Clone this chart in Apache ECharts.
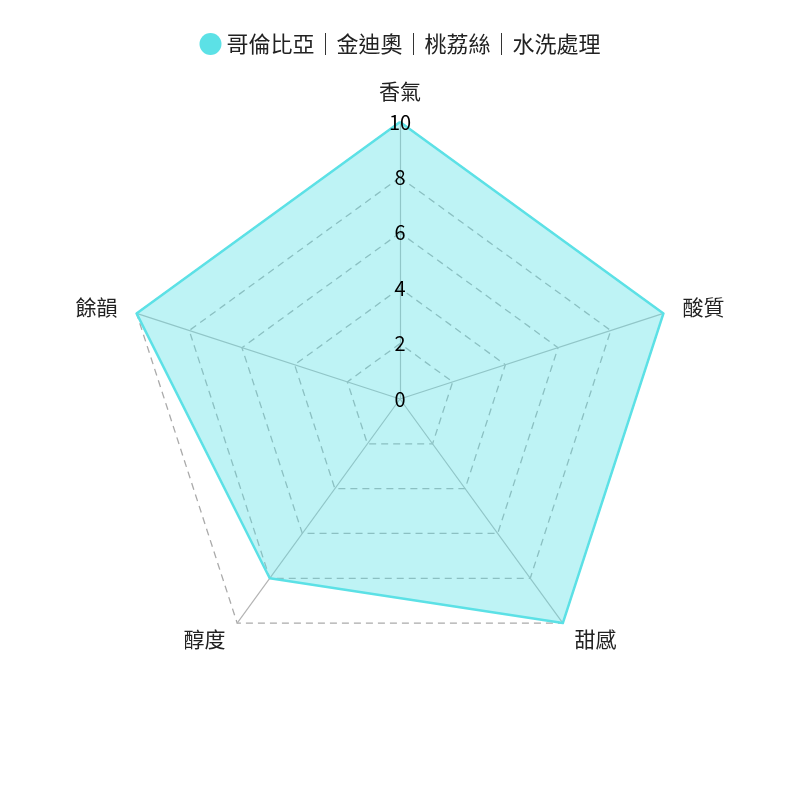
<!DOCTYPE html>
<html><head><meta charset="utf-8">
<script src="https://cdn.jsdelivr.net/npm/echarts@6/dist/echarts.min.js"></script>
<style>html,body{margin:0;padding:0;background:#fff}#c{width:800px;height:800px}</style>
</head><body><div id="c"></div>
<script>
const seriesName = '哥倫比亞｜金迪奧｜桃荔絲｜水洗處理';
// listed clockwise from the top
const indicatorNames = ['香氣', '酸質', '甜感', '醇度', '餘韻'];
const indicatorMax = [10, 10, 10, 10, 10];
const values = [10, 10, 10, 8, 10];

// ECharts lays indicators out counter-clockwise; reorder to draw clockwise
const order = [0, 4, 3, 2, 1];

const chart = echarts.init(document.getElementById('c'));
const font = '"Noto Sans CJK TC", "Noto Sans", sans-serif';
const baseRadar = {
  center: ['50%', 399],
  radius: 277,
  shape: 'polygon',
  splitNumber: 5,
  startAngle: 90
};
chart.setOption({
  backgroundColor: '#fff',
  textStyle: { fontFamily: font },
  legend: {
    top: 28, left: 'center',
    icon: 'circle', itemWidth: 22, itemHeight: 22, itemGap: 10,
    textStyle: { fontSize: 22, color: '#222', fontFamily: font },
    data: [seriesName]
  },
  radar: [
    Object.assign({}, baseRadar, {
      z: 0,
      axisName: { color: '#222', fontSize: 21, fontFamily: font },
      nameGap: 20,
      axisLine: { lineStyle: { color: '#b4b4b4', width: 1.2 } },
      splitLine: { lineStyle: { color: '#aaa', type: [7, 5], width: 1.3 } },
      splitArea: { show: false },
      axisTick: { show: false },
      axisLabel: { show: false },
      indicator: order.map(i => ({ name: indicatorNames[i], max: indicatorMax[i], min: 0 }))
    }),
    // overlay carrying only the tick labels, drawn above the filled area
    Object.assign({}, baseRadar, {
      z: 10,
      axisName: { show: false },
      axisLine: { show: false },
      splitLine: { show: false },
      splitArea: { show: false },
      axisTick: { show: false },
      axisLabel: { show: false, fontSize: 20, color: '#000', margin: 0, align: 'center', verticalAlign: 'middle', padding: [5, 0, 0, 0], fontFamily: font },
      indicator: order.map((i, k) => k === 0
        ? { name: indicatorNames[i], max: indicatorMax[i], min: 0, axisLabel: { show: true } }
        : { name: indicatorNames[i], max: indicatorMax[i], min: 0 })
    })
  ],
  series: [{
    type: 'radar',
    radarIndex: 0,
    name: seriesName,
    symbol: 'none',
    itemStyle: { color: '#5ce1e6' },
    lineStyle: { color: '#5ce1e6', width: 2.5 },
    areaStyle: { color: '#5ce1e6', opacity: 0.4 },
    data: [{ value: order.map(i => values[i]), name: seriesName }]
  }]
});
</script></body></html>
